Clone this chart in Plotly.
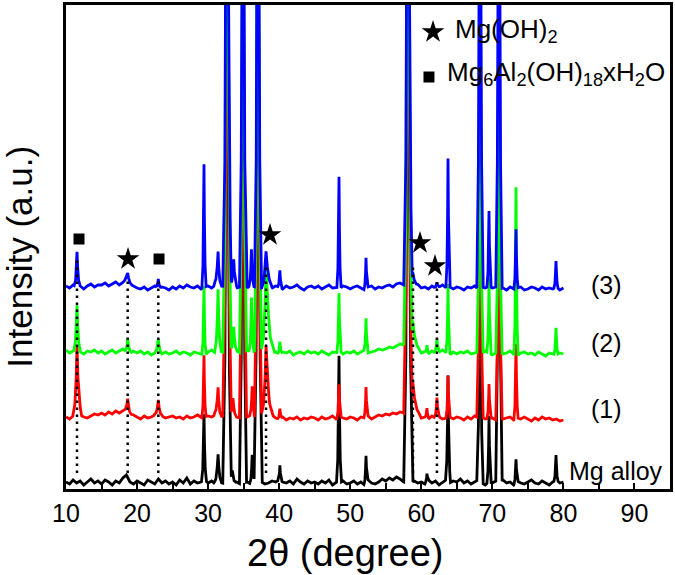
import numpy as np
import plotly.graph_objects as go

# ---------------- data ----------------
# background (noise) of each pattern on a 0.5-degree grid from 10 to 80 deg, intensity in a.u.
BG_START, BG_STEP = 10.0, 0.5
BLACK_BG = [1,-1,3,0,2,-2,1,4,0,2, -1,3,1,-2,2,0,5,8,1,-1, 2,0,-2,3,1,-1,4,0,2,-1,
            1,-2,3,0,5,-1,2,0,1,3, 0,2,-1,1,0,-1,2,0,1,-1, 0,1,-1,2,0,1,-1,0,2,1,
            3,1,0,2,-1,4,1,-1,2,0, 1,-1,2,0,3,-2,1,0,2,-1, 0,2,-1,1,-2,3,0,-1,1,4,
            2,5,3,6,4,1,0,-1,2,0, 1,-1,3,0,2,-2,1,3,0,2, 1,4,0,2,-1,1,3,0,-2,1,
            0,2,-1,3,0,1,-2,2,0,-1, 1,3,0,-1,2,0,-2,1,3,0, 1]
RED_BG = [0,-2,1,-1,2,0,-1,1,3,2, 4,2,5,3,6,4,7,5,3,2, 0,-2,1,-1,0,2,0,1,-1,0,
          1,-1,0,-2,1,-1,0,2,-1,0, 1,0,2,-1,1,0,2,1,0,-1, 1,0,2,-1,0,1,-1,0,2,-1,
          -2,0,-3,-1,-2,0,-3,-1,-2,0, -1,-3,0,-2,-1,1,-2,0,-1,-2, 0,-1,-3,0,-1,1,-2,0,2,1,
          3,2,4,3,5,4,2,1,0,1, -1,0,-2,1,-1,0,-2,-1,0,-2, 0,-1,-3,0,-2,1,-1,0,-2,-1,
          -1,-3,0,-2,-1,0,-3,-1,-2,0, -2,-4,-1,-3,0,-2,-1,-3,-2,-4, -3]
GREEN_BG = [2,-1,1,3,0,-2,1,0,2,-1, 1,-2,0,2,-1,1,3,0,-1,1, -1,1,-2,0,-3,-1,1,-2,0,-2,
            -1,1,-2,0,-1,-3,0,-1,-2,-4, 0,2,-1,1,0,-1,2,0,1,-1, 0,2,-1,1,3,0,2,1,-1,0,
            -2,0,-1,1,-3,-1,0,-2,1,-1, 0,-2,1,-1,-3,0,-1,1,-2,0, -1,1,-2,0,2,-1,0,1,3,2,
            3,5,4,6,8,7,3,2,0,1, -1,0,-2,1,-1,0,2,-1,-3,0, -2,0,-1,1,-2,-1,0,-2,1,-1,
            -3,-1,0,-2,-1,1,-2,-4,-1,0, -2,-1,-3,0,-2,-4,-1,-2,-3,-1, -2]
BLUE_BG = [1,-1,2,0,1,-2,1,3,0,2, 2,4,1,3,5,2,4,6,3,1, -1,-2,0,-3,-1,1,-2,0,-1,-3,
           0,-2,1,-1,2,0,-1,1,-2,0, 1,-1,2,0,1,-1,2,1,-1,0, 1,-1,2,0,1,-1,0,2,-1,1,
           0,-2,1,-1,0,2,-1,-3,0,1, -1,1,-2,0,2,-1,0,-2,1,0, -2,0,1,-1,-3,0,1,-2,0,-1,
           1,2,0,3,4,2,1,0,-1,1, -1,0,-2,1,-1,0,2,-1,0,-2, 0,-1,-3,0,-1,1,-2,0,-1,1,
           -1,0,-2,-1,-3,0,-2,-1,0,-3, -2,0,-1,-3,0,-2,-1,-2,0,-3, -1]

# peaks: (2theta, height, left half-base width, right half-base width)
BLACK_PEAKS = [(29.42, 66, .35, .35), (31.4, 28, .6, .5), (32.66, 700, .6, .6), (33.4, 12, .5, .5),
               (34.91, 700, .5, .5), (36.2, 28, .35, .35), (37.02, 700, .55, .6), (40.1, 15, .3, .3),
               (48.42, 127, .35, .35), (52.22, 27, .3, .3), (58.13, 700, .6, .7), (60.8, 8, .3, .3),
               (63.76, 106, .35, .35), (68.26, 300, .45, .45), (69.53, 66, .3, .3),
               (70.93, 700, .45, .45), (73.33, 23, .3, .3), (78.96, 25, .3, .3)]
RED_PEAKS = [(11.55, 72, .6, .65), (18.68, 14, .6, .5), (22.99, 17, .6, .6), (29.42, 62, .3, .3),
             (31.4, 30, .6, .5), (32.66, 700, .6, .6), (33.5, 18, .5, .5), (34.91, 700, .5, .5),
             (36.2, 30, .35, .35), (37.02, 700, .5, .5), (38.15, 72, .7, 1.0), (40.1, 10, .3, .3),
             (48.42, 33, .3, .3), (52.22, 30, .3, .3), (58.13, 700, .6, .6), (58.8, 35, .5, 1.2),
             (60.8, 10, .3, .3), (62.2, 20, .4, .4), (63.76, 42, .3, .3), (68.26, 400, .45, .45),
             (69.53, 34, .3, .3), (70.93, 400, .45, .45), (73.33, 75, .3, .3)]
GREEN_PEAKS = [(11.55, 44, .45, .5), (18.68, 14, .4, .5), (22.99, 12, .5, .5), (29.42, 70, .3, .3),
               (31.4, 62, .5, .45), (32.66, 700, .6, .6), (33.6, 25, .5, .5), (34.91, 700, .5, .5),
               (36.1, 55, .35, .35), (37.02, 700, .5, .5), (38.15, 82, .7, 1.2), (40.1, 12, .3, .3),
               (48.42, 58, .3, .3), (52.22, 33, .3, .3), (58.13, 700, .6, .6), (58.8, 30, .5, 1.2),
               (60.8, 8, .3, .3), (62.2, 14, .4, .4), (63.76, 70, .3, .3), (68.26, 400, .45, .45),
               (69.53, 75, .3, .3), (70.93, 400, .45, .45), (73.33, 168, .3, .3), (78.96, 27, .3, .3)]
BLUE_PEAKS = [(11.55, 35, .4, .45), (18.68, 9, .8, .6), (22.99, 10, .4, .4), (29.42, 123, .3, .3),
              (31.4, 35, .6, .5), (32.66, 700, .6, .6), (33.6, 27, .5, .5), (34.91, 700, .5, .5),
              (36.1, 36, .35, .35), (37.02, 700, .5, .5), (38.15, 35, .6, .9), (40.1, 17, .3, .3),
              (48.42, 112, .3, .3), (52.22, 31, .3, .3), (58.13, 700, .6, .6), (58.8, 15, .5, 1.0),
              (62.2, 5, .4, .4), (63.76, 129, .3, .3), (68.26, 700, .45, .45), (69.53, 75, .3, .3),
              (70.93, 700, .45, .45), (73.33, 59, .3, .3), (78.96, 26, .3, .3)]

SAMPLE_NAMES = ["Mg alloy", "(1)", "(2)", "(3)"]
OFFSETS = [6, 72, 137, 202]
LABEL_Y = [18, 80.5, 146.5, 204.5]

# phase markers
LDH_X, LDH_Y = [11.83, 23.09], [250, 230]
MGOH_X, MGOH_Y = [18.73, 38.71, 59.82, 61.93], [230, 254, 246, 223]
DOT_X = [11.55, 18.68, 22.99, 38.15, 58.83, 62.2]
DOT_TOP = [229, 212, 212, 222, 222, 207]
DOT_BOTTOM = 16

# ---------------- construction ----------------
SHAPE_POS = [-1, -0.5, -0.2, 0, 0.2, 0.5, 1]
SHAPE_FRAC = [0, 0.18, 0.55, 1, 0.55, 0.18, 0]


def build(bg, peaks, offset):
    gx = BG_START + BG_STEP * np.arange(len(bg))
    xs = list(gx)
    for c, h, wl, wr in peaks:
        for p in SHAPE_POS:
            xs.append(c + p * (wl if p < 0 else wr))
    xs = np.unique(np.round(np.array(xs), 4))
    xs = xs[(xs >= gx[0]) & (xs <= gx[-1])]
    y = np.interp(xs, gx, np.array(bg, dtype=float))
    for c, h, wl, wr in peaks:
        px = [c + p * (wl if p < 0 else wr) for p in SHAPE_POS]
        py = [f * h for f in SHAPE_FRAC]
        y = y + np.interp(xs, px, py, left=0, right=0)
    return xs, y + offset


FONT = "Liberation Sans, Arial, sans-serif"
fig = go.Figure()

series = [(BLACK_BG, BLACK_PEAKS, "#000000"), (RED_BG, RED_PEAKS, "#ff0000"),
          (GREEN_BG, GREEN_PEAKS, "#00ff00"), (BLUE_BG, BLUE_PEAKS, "#0000ff")]
for (bg, pk, col), off, name in zip(series, OFFSETS, SAMPLE_NAMES):
    xs, ys = build(bg, pk, off)
    fig.add_trace(go.Scatter(x=xs, y=ys, mode="lines", name=name,
                             line=dict(color=col, width=2.8), showlegend=False))

for x, top in zip(DOT_X, DOT_TOP):
    fig.add_trace(go.Scatter(x=[x, x], y=[DOT_BOTTOM, top], mode="lines",
                             line=dict(color="black", width=2.5, dash="2.5px,4.5px"),
                             showlegend=False))

fig.add_trace(go.Scatter(x=MGOH_X + [61.65], y=MGOH_Y + [457], mode="markers",
                         marker=dict(symbol="star", size=17, color="black"), showlegend=False))
fig.add_trace(go.Scatter(x=LDH_X + [61.08], y=LDH_Y + [412], mode="markers",
                         marker=dict(symbol="square", size=11, color="black"), showlegend=False))

annotations = []
for name, ly in zip(SAMPLE_NAMES, LABEL_Y):
    if name == "Mg alloy":
        annotations.append(dict(x=80.5, y=ly, text=name, xanchor="left", yanchor="middle",
                                showarrow=False, font=dict(size=25, color="black", family=FONT)))
    else:
        annotations.append(dict(x=86.1, y=ly, text=name, xanchor="center", yanchor="middle",
                                showarrow=False, font=dict(size=25, color="black", family=FONT)))
annotations.append(dict(x=64.46, y=459, text="Mg(OH)<sub>2</sub>", xanchor="left", yanchor="middle",
                        showarrow=False, font=dict(size=26, color="black", family=FONT)))
annotations.append(dict(x=63.34, y=415.5,
                        text="Mg<sub>6</sub>Al<sub>2</sub>(OH)<sub>18</sub>xH<sub>2</sub>O",
                        xanchor="left", yanchor="middle", showarrow=False,
                        font=dict(size=26, color="black", family=FONT)))
annotations.append(dict(xref="paper", yref="paper", x=0.462, y=0, yshift=-64, text="2θ (degree)",
                        xanchor="center", yanchor="middle", showarrow=False,
                        font=dict(size=38, color="black", family=FONT)))
annotations.append(dict(xref="paper", yref="paper", x=0, xshift=-46, y=0.48, text="Intensity (a.u.)",
                        textangle=-90, xanchor="center", yanchor="middle", showarrow=False,
                        font=dict(size=35, color="black", family=FONT)))

fig.update_layout(
    width=675, height=575,
    margin=dict(l=66, r=5, t=5, b=86, autoexpand=False),
    paper_bgcolor="white", plot_bgcolor="white",
    annotations=annotations,
    font=dict(family=FONT, color="black"),
)
fig.update_xaxes(range=[10, 95], tickvals=[10, 20, 30, 40, 50, 60, 70, 80, 90],
                 ticks="inside", ticklen=6, tickwidth=2, tickcolor="black",
                 minor=dict(tickvals=[15, 25, 35, 45, 55, 65, 75, 85], ticks="inside",
                            ticklen=6, tickwidth=2, tickcolor="black"),
                 tickfont=dict(size=25, family=FONT, color="black"),
                 showline=True, linewidth=3, linecolor="black", mirror=True,
                 showgrid=False, zeroline=False)
fig.update_yaxes(range=[0, 484], showticklabels=False, ticks="",
                 showline=True, linewidth=3, linecolor="black", mirror=True,
                 showgrid=False, zeroline=False)

fig.write_html("out.html", config={"displayModeBar": False},
               post_script="document.body.style.margin='0px';")
